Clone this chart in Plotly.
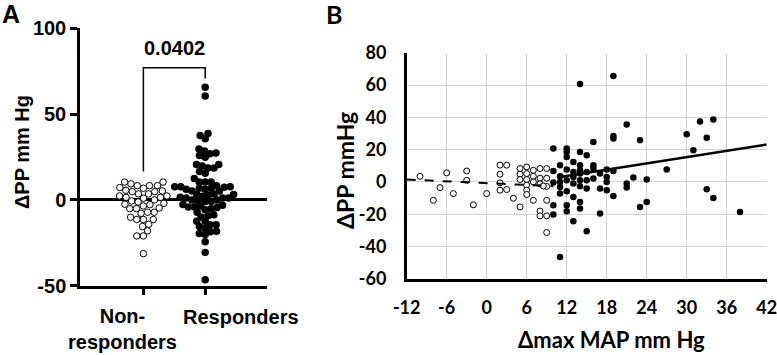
import numpy as np
import plotly.graph_objects as go

# ---------------- data ----------------
# Non-responders: Δmax MAP (mm Hg) and ΔPP (mm Hg)
nr_map = [-10, -8, -7, -6, -5, -3, -3, -2, 0, 2, 3, 2, 2, 2, 3, 4, 5, 5, 5, 5,
          6, 6, 6, 6, 6, 6, 7, 7, 7, 7, 8, 8, 8, 8, 8, 9, 9, 9, 9, 9, 9, 8.5]
nr_pp = [3.5, -11.4, -3.5, 5.6, -7.2, 6.8, 1.0, -14.2, -7.2, 10.4, 10.4, 4.8, -0.6, -5.1,
         -4.7, -10.1, -15.5, 8.3, 4.8, 1.5, 9.3, 5.2, 1.5, -2.0, -5.1, -7.8, 7.2, 3.5,
         0.0, -11.4, 8.3, 2.3, -1.2, -18.0, -21.0, 8.3, 2.3, -2.8, -11.4, -21.0, -31.3, -2.5]

# Responders
r_map = [14, 19, 10, 12, 12, 12, 14, 15, 11, 13, 10, 12, 14, 16, 16, 16, 17, 18, 19, 19,
         19, 21, 23, 27, 22, 24, 21, 21, 19, 23, 24, 30, 31, 32, 34, 33, 33, 34, 38, 11,
         13, 15, 17, 10, 10, 12, 12, 14, 14, 13, 11, 12, 11, 10, 11, 12, 13, 13, 14, 14,
         14, 15, 15, 16, 17, 18, 18, 18, 11, 15, 13, 14]
r_pp = [60.6, 65.6, 20.7, 20.7, 18.6, 15.5, 18.6, 16.6, 10.4, 12.4, 6.8, 7.7, 10.4, 10.4,
        8.3, 24.8, 5.2, 7.7, 6.8, 26.9, 28.5, 35.6, 25.9, 7.7, 2.7, 1.5, -1.0, -3.5, -8.7,
        -15.5, -12.4, 29.6, 19.7, 37.5, 38.7, 27.3, -4.5, -9.9, -18.6, -46.5, -24.4, -30.6,
        -19.6, -14.5, -20.2, -14.5, -18.2, -12.4, -16.5, -9.3, -7.2, -5.8, -3.1, -0.4, 0.0,
        1.1, 3.1, -1.0, 5.2, 1.1, -2.7, 1.1, -4.1, 2.1, -4.1, 3.1, 0.0, -5.1, 3.5, 6.2,
        6.2, 7.3]

group_labels = ["Non-<br>responders", "Responders"]
p_value_label = "0.0402"

# regression lines
fit_nr_x = [-12, 10]
fit_nr_y = [1.5, -2.6]
fit_r_x = [11, 42]
fit_r_y = [3.1, 23.2]

a_yticks = [-50, 0, 50, 100]
a_yticklabels = ["-50", "0", "50", "100"]
b_xticks = [-12, -6, 0, 6, 12, 18, 24, 30, 36, 42]
b_xticklabels = ["-12", "-6", "0", "6", "12", "18", "24", "30", "36", "42"]
b_yticks = [-60, -40, -20, 0, 20, 40, 60, 80]
b_yticklabels = ["-60", "-40", "-20", "0", "20", "40", "60", "80"]

# ---------------- helpers ----------------
W, H = 777, 355


def px_x(p):
    return p / W


def px_y(p):
    return 1 - p / H


def swarm(values, px_per_unit, d):
    vals = np.asarray(values, dtype=float) * px_per_unit
    order = np.argsort(vals, kind="stable")
    placed = []
    offs = np.zeros(len(vals))
    for i in order:
        y = vals[i]
        iv = []
        for xj, yj in placed:
            dy = abs(y - yj)
            if dy < d:
                w = np.sqrt(d * d - dy * dy)
                iv.append((xj - w, xj + w))
        cands = [0.0] + [a for a, b in iv] + [b for a, b in iv]
        cands.sort(key=lambda c: (abs(c), c))
        x = 0.0
        for c in cands:
            if all(not (a + 1e-6 < c < b - 1e-6) for a, b in iv):
                x = c
                break
        offs[i] = x
        placed.append((x, y))
    return offs


# panel A geometry (pixels)
A_x0, A_x1 = 80, 267
A_ytop, A_ybot = 28.3, 285.7
A_xrange = [-1.026, 2.0]
A_yrange = [-50, 100]
A_ppu_y = (A_ybot - A_ytop) / (A_yrange[1] - A_yrange[0])
A_ppu_x = (A_x1 - A_x0) / (A_xrange[1] - A_xrange[0])

nr_off = swarm(nr_pp, A_ppu_y, 6.6) / A_ppu_x
r_off = swarm(r_pp, A_ppu_y, 6.0) / A_ppu_x

# panel B geometry
B_x0, B_x1 = 406.7, 766.7
B_ytop, B_ybot = 52.8, 278.8

FA = "Liberation Sans, Arial, sans-serif"
FB = "Lato, Carlito, Calibri, sans-serif"

fig = go.Figure()

# ---- panel A ----
fig.add_trace(go.Scatter(
    x=0 + nr_off, y=nr_pp, mode="markers", xaxis="x", yaxis="y",
    marker=dict(size=6.5, color="white", line=dict(color="black", width=1)),
    showlegend=False, hoverinfo="skip", cliponaxis=False))
fig.add_trace(go.Scatter(
    x=1 + r_off, y=r_pp, mode="markers", xaxis="x", yaxis="y",
    marker=dict(size=7.5, color="black", line=dict(color="black", width=0)),
    showlegend=False, hoverinfo="skip", cliponaxis=False))

# significance bracket
fig.add_trace(go.Scatter(
    x=[0, 0, 1, 1], y=[16.5, 77, 77, 70.7], mode="lines", xaxis="x", yaxis="y",
    line=dict(color="black", width=1.5), showlegend=False, hoverinfo="skip"))

# ---- panel B ----
fig.add_trace(go.Scatter(
    x=nr_map, y=nr_pp, mode="markers", xaxis="x2", yaxis="y2",
    marker=dict(size=6, color="white", line=dict(color="black", width=1)),
    showlegend=False, hoverinfo="skip"))
fig.add_trace(go.Scatter(
    x=r_map, y=r_pp, mode="markers", xaxis="x2", yaxis="y2",
    marker=dict(size=6.5, color="black", line=dict(width=0)),
    showlegend=False, hoverinfo="skip"))
fig.add_trace(go.Scatter(
    x=fit_nr_x, y=fit_nr_y, mode="lines", xaxis="x2", yaxis="y2",
    line=dict(color="black", width=2, dash="dash"), showlegend=False, hoverinfo="skip"))
fig.add_trace(go.Scatter(
    x=fit_r_x, y=fit_r_y, mode="lines", xaxis="x2", yaxis="y2",
    line=dict(color="black", width=2.5), showlegend=False, hoverinfo="skip"))


def ann(text, x, y, font, **kw):
    d = dict(text=text, x=px_x(x), y=px_y(y), xref="paper", yref="paper",
             xanchor="center", yanchor="middle", showarrow=False, font=font)
    d.update(kw)
    return d


fontA = dict(family=FA, size=20, color="black", weight="bold")
fontB = dict(family=FB, size=23, color="black", weight="bold")

annotations = [
    ann("A", 11, 14, dict(family=FA, size=25, color="black", weight="bold")),
    ann("B", 334, 14, dict(family=FB, size=25, color="black", weight="bold")),
    ann("ΔPP mm Hg", 22, 152, fontA, textangle=-90),
    dict(text=p_value_label, x=0.5, y=81, xref="x", yref="y", xanchor="center",
         yanchor="bottom", showarrow=False, font=fontA),
    ann(group_labels[0], 122, 329, fontA),
    ann(group_labels[1], 241, 317, fontA),
    ann("ΔPP mmHg", 345, 171, fontB, textangle=-90),
    ann("Δmax MAP mm Hg", 611, 339, dict(family=FB, size=22, color="black", weight="bold")),
]

fig.update_layout(
    width=W, height=H, margin=dict(l=0, r=0, t=0, b=0, autoexpand=False),
    paper_bgcolor="white", plot_bgcolor="white",
    annotations=annotations,
    xaxis=dict(domain=[px_x(A_x0), px_x(A_x1)], range=A_xrange, tickvals=[0, 1],
               ticktext=["", ""], ticks="outside", ticklen=7, tickwidth=2.5,
               tickcolor="black", showline=True, linewidth=2.5, linecolor="black",
               showgrid=False, zeroline=False, fixedrange=True, automargin=False),
    yaxis=dict(domain=[px_y(A_ybot), px_y(A_ytop)], range=A_yrange, tickvals=a_yticks,
               ticktext=a_yticklabels,
               ticks="outside", ticklen=7, tickwidth=2.5, tickcolor="black",
               showline=True, linewidth=2.5, linecolor="black", showgrid=False,
               zeroline=True, zerolinecolor="black", zerolinewidth=2.5,
               tickfont=dict(family=FA, size=20, color="black", weight="bold"),
               ticklabelstandoff=0, automargin=False),
    xaxis2=dict(domain=[px_x(B_x0), px_x(B_x1)], range=[-12, 42], tickvals=b_xticks,
                ticktext=b_xticklabels, ticklabeloverflow="allow",
                ticks="", showline=True, linewidth=2.5, linecolor="black",
                showgrid=True, gridcolor="#d4d4d4", gridwidth=1, zeroline=False,
                tickfont=dict(family=FB, size=18, color="black", weight="bold"),
                ticklabelstandoff=11, anchor="y2", automargin=False),
    yaxis2=dict(domain=[px_y(B_ybot), px_y(B_ytop)], range=[-60, 80], tickvals=b_yticks,
                ticktext=b_yticklabels, ticklabeloverflow="allow",
                ticks="", showline=True, linewidth=2.5, linecolor="black",
                showgrid=True, gridcolor="#d4d4d4", gridwidth=1, zeroline=False,
                tickfont=dict(family=FB, size=18, color="black", weight="bold"),
                ticklabelstandoff=14, anchor="x2", automargin=False),
)

fig.write_html("out.html", config={"displayModeBar": False},
               post_script="document.body.style.margin='0';")
